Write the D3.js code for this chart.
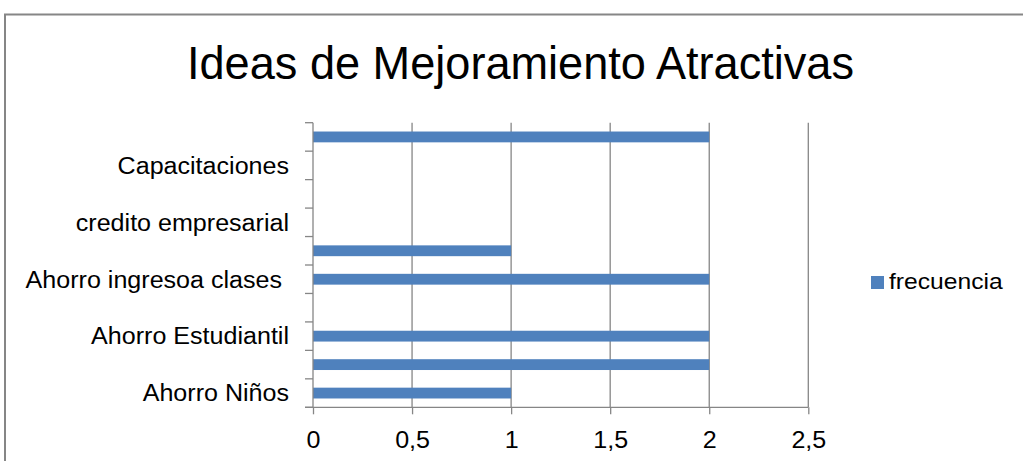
<!DOCTYPE html>
<html>
<head>
<meta charset="utf-8">
<script src="https://cdn.jsdelivr.net/npm/d3@7"></script>
<style>
  html, body { margin: 0; padding: 0; background: #fff; }
  svg { display: block; }
  text { font-family: "Liberation Sans", Arial, sans-serif; fill: #000; white-space: pre; }
</style>
</head>
<body>
<svg id="chart" width="1023" height="461"></svg>
<script>
// Categories from bottom to top; every other label is skipped on the axis
const categories = [
  "Ahorro Niños", "", "Ahorro Estudiantil", "", "Ahorro ingresoa clases ",
  "", "credito empresarial", "", "Capacitaciones", ""
];
const frecuencia = [1, 2, 2, 0, 2, 1, 0, 0, 0, 2];
const xTicks = [0, 0.5, 1, 1.5, 2, 2.5];
const seriesName = "frecuencia";
const title = "Ideas de Mejoramiento Atractivas";

const W = 1023, H = 461;
const plot = { left: 313, right: 808.3, top: 122.7, bottom: 407.3 };
const gridColor = "#868686";
const barColor = "#4F81BD";
const stretch = 1.09;

const svg = d3.select("#chart");

// outer chart frame
svg.append("rect")
  .attr("x", 5).attr("y", 14.5)
  .attr("width", W + 20).attr("height", H + 20)
  .attr("fill", "#fff").attr("stroke", gridColor).attr("stroke-width", 2);

// widen glyphs a little, keeping the anchor
function widen(sel, k) {
  sel.each(function () {
    const len = this.getComputedTextLength();
    if (len > 0) {
      d3.select(this).attr("textLength", len * k).attr("lengthAdjust", "spacingAndGlyphs");
    }
  });
}

// title in a condensed face, fitted to its line width
svg.append("text")
  .attr("x", 520.5).attr("y", 79.3)
  .attr("text-anchor", "middle")
  .style("font-family", "\"Liberation Sans Narrow\", \"Arial Narrow\", \"Liberation Sans\", sans-serif")
  .style("font-size", "47px")
  .attr("textLength", 667)
  .attr("lengthAdjust", "spacingAndGlyphs")
  .text(title);

const x = d3.scaleLinear().domain([0, 2.5]).range([plot.left, plot.right]);
const y = d3.scaleBand()
  .domain(d3.range(categories.length))
  .range([plot.bottom, plot.top])
  .paddingInner(0.62).paddingOuter(0.31);

// vertical gridlines
svg.append("g").selectAll("line")
  .data(xTicks.filter(d => d > 0))
  .join("line")
  .attr("x1", d => x(d)).attr("x2", d => x(d))
  .attr("y1", plot.top).attr("y2", plot.bottom)
  .attr("stroke", gridColor).attr("stroke-width", 1.3);

// bars
svg.append("g").selectAll("rect")
  .data(frecuencia.map((v, i) => ({ v, i })).filter(d => d.v > 0))
  .join("rect")
  .attr("x", x(0))
  .attr("y", d => y(d.i))
  .attr("width", d => x(d.v) - x(0))
  .attr("height", y.bandwidth())
  .attr("fill", barColor);

// category axis: line, boundary ticks and labels
const step = (plot.bottom - plot.top) / categories.length;
const yAxis = svg.append("g");
yAxis.append("line")
  .attr("x1", plot.left).attr("x2", plot.left)
  .attr("y1", plot.top).attr("y2", plot.bottom)
  .attr("stroke", gridColor).attr("stroke-width", 1.3);
yAxis.selectAll("line.tick")
  .data(d3.range(categories.length + 1))
  .join("line").attr("class", "tick")
  .attr("x1", plot.left - 8).attr("x2", plot.left)
  .attr("y1", i => plot.bottom - i * step).attr("y2", i => plot.bottom - i * step)
  .attr("stroke", gridColor).attr("stroke-width", 1.3);
yAxis.selectAll("text")
  .data(categories.map((c, i) => ({ c, i })).filter(d => d.c !== ""))
  .join("text")
  .attr("x", 289)
  .attr("y", d => y(d.i) + y.bandwidth() / 2)
  .attr("dy", "0.36em")
  .attr("text-anchor", "end")
  .style("font-size", "23px")
  .text(d => d.c)
  .call(widen, stretch);

// value axis
const fmt = d3.formatLocale({ decimal: ",", thousands: ".", grouping: [3], currency: ["", ""] }).format(".1~f");
const xAxis = svg.append("g")
  .attr("transform", `translate(0,${plot.bottom})`)
  .call(d3.axisBottom(x).tickValues(xTicks).tickFormat(fmt).tickSize(7).tickPadding(17).tickSizeOuter(0));
xAxis.select(".domain").remove();
xAxis.append("line")
  .attr("x1", plot.left - 8).attr("x2", plot.right)
  .attr("stroke", gridColor).attr("stroke-width", 1.3);
xAxis.selectAll(".tick line").attr("stroke", gridColor).attr("stroke-width", 1.3);
xAxis.selectAll(".tick text")
  .attr("fill", "#000")
  .style("font-size", "23px")
  .style("font-family", "\"Liberation Sans\", Arial, sans-serif")
  .call(widen, stretch);

// legend
const legend = svg.append("g");
legend.append("rect")
  .attr("x", 871).attr("y", 276).attr("width", 13).attr("height", 13)
  .attr("fill", barColor);
legend.append("text")
  .attr("x", 889).attr("y", 289.3)
  .style("font-size", "22px")
  .text(seriesName)
  .call(widen, 1.12);
</script>
</body>
</html>
